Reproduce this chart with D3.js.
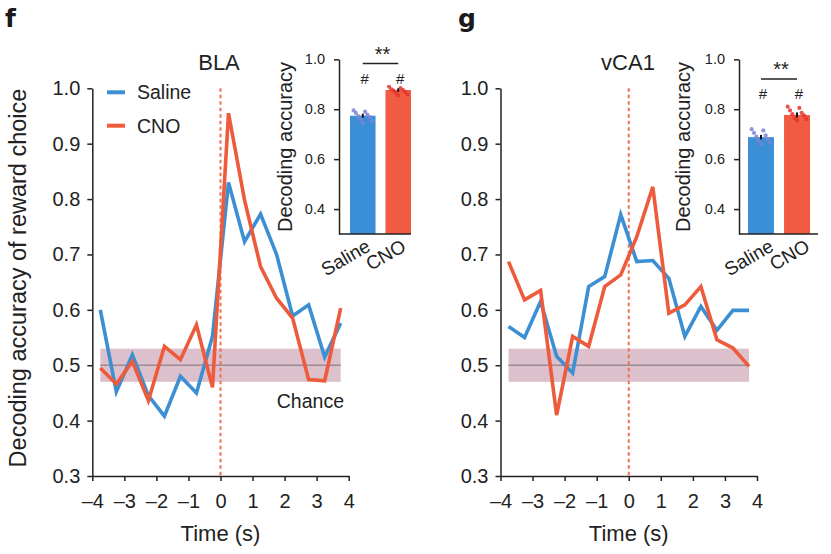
<!DOCTYPE html>
<html>
<head>
<meta charset="utf-8">
<script src="https://cdn.jsdelivr.net/npm/d3@7"></script>
<style>
  html, body { margin: 0; padding: 0; background: #fff; }
  svg { display: block; font-family: "Liberation Sans", Arial, sans-serif; }
</style>
</head>
<body>
<svg id="chart" width="831" height="554"></svg>
<script>
// ---------------- DATA ----------------
const times = [-3.75, -3.25, -2.75, -2.25, -1.75, -1.25, -0.75, -0.25, 0.25, 0.75, 1.25, 1.75, 2.25, 2.75, 3.25, 3.75];
const blaSaline  = [0.600, 0.452, 0.519, 0.445, 0.408, 0.480, 0.450, 0.552, 0.830, 0.723, 0.773, 0.700, 0.589, 0.609, 0.515, 0.576];
const blaCNO     = [0.495, 0.466, 0.507, 0.436, 0.534, 0.510, 0.573, 0.460, 0.955, 0.798, 0.678, 0.621, 0.585, 0.474, 0.472, 0.603];
const vca1Saline = [0.570, 0.550, 0.615, 0.516, 0.486, 0.642, 0.660, 0.772, 0.687, 0.689, 0.657, 0.552, 0.606, 0.563, 0.599, 0.599];
const vca1CNO    = [0.687, 0.618, 0.635, 0.410, 0.552, 0.534, 0.642, 0.663, 0.732, 0.822, 0.594, 0.609, 0.642, 0.546, 0.531, 0.498];
const chanceMean = 0.5, chanceLow = 0.47, chanceHigh = 0.53;
const mainYTicks = [0.3, 0.4, 0.5, 0.6, 0.7, 0.8, 0.9, 1.0];
const mainXTicks = [-4, -3, -2, -1, 0, 1, 2, 3, 4];
const seriesNames = ["Saline", "CNO"];

const insetGroups = ["Saline", "CNO"];
const insetYTicks = [0.4, 0.6, 0.8, 1.0];
const blaBar  = [0.774, 0.877];
const blaSem  = [0.008, 0.007];
const blaDotsSaline  = [0.795, 0.790, 0.785, 0.778, 0.772, 0.768, 0.760, 0.752, 0.745];
const blaDotsCNO     = [0.890, 0.885, 0.880, 0.878, 0.875, 0.870, 0.865, 0.860, 0.855];
const vca1Bar = [0.688, 0.777];
const vca1Sem = [0.009, 0.010];
const vca1DotsSaline = [0.720, 0.715, 0.705, 0.695, 0.690, 0.680, 0.675, 0.665, 0.660];
const vca1DotsCNO    = [0.810, 0.805, 0.795, 0.785, 0.780, 0.775, 0.765, 0.760, 0.755];

// ---------------- STYLE ----------------
const BLUE = "#3c8fd2", RED = "#ee5a3c";
const BAR_BLUE = "#3a8fd6", BAR_RED = "#f05b42";
const DOT_BLUE = "#7b86d6", DOT_RED = "#e4352b";
const AX = "#222";

const svg = d3.select("#chart");

function styleAxis(g, fs) {
  g.selectAll(".domain").attr("stroke", AX).attr("stroke-width", 1.5);
  g.selectAll(".tick line").attr("stroke", AX).attr("stroke-width", 1.5);
  g.selectAll(".tick text").attr("fill", "#222").style("font-size", fs + "px")
    .style("font-family", '"Liberation Sans", Arial, sans-serif');
}

function mainPanel(opt) {
  const x = d3.scaleLinear().domain([-4, 4]).range([opt.x0, opt.x1]);
  const y = d3.scaleLinear().domain([0.3, 1.0]).range([476, 88.3]);
  const g = svg.append("g");

  // chance band
  g.append("rect")
    .attr("x", x(times[0])).attr("width", x(times[times.length - 1]) - x(times[0]))
    .attr("y", y(chanceHigh)).attr("height", y(chanceLow) - y(chanceHigh))
    .attr("fill", "#dcc1cd");
  g.append("line")
    .attr("x1", x(times[0])).attr("x2", x(times[times.length - 1]))
    .attr("y1", y(chanceMean)).attr("y2", y(chanceMean))
    .attr("stroke", "#9c8a92").attr("stroke-width", 1.5);

  // zero line
  g.append("line")
    .attr("x1", x(0)).attr("x2", x(0)).attr("y1", y(1.0)).attr("y2", y(0.3))
    .attr("stroke", "#f07052").attr("stroke-width", 2).attr("stroke-dasharray", "3.5,3");

  const line = d3.line().x((d, i) => x(times[i])).y(d => y(d));
  g.append("path").datum(opt.saline).attr("d", line)
    .attr("fill", "none").attr("stroke", BLUE).attr("stroke-width", 3.6).attr("stroke-linejoin", "miter");
  g.append("path").datum(opt.cno).attr("d", line)
    .attr("fill", "none").attr("stroke", RED).attr("stroke-width", 3.6).attr("stroke-linejoin", "miter");

  // axes
  const ya = g.append("g").attr("transform", `translate(${opt.x0},0)`)
    .call(d3.axisLeft(y).tickValues(mainYTicks).tickFormat(d3.format(".1f")).tickSize(5).tickSizeOuter(0).tickPadding(7));
  styleAxis(ya, 20);
  const xa = g.append("g").attr("transform", `translate(0,476)`)
    .call(d3.axisBottom(x).tickValues(mainXTicks).tickFormat(d => d < 0 ? "\u2013" + Math.abs(d) : d).tickSize(5).tickSizeOuter(0).tickPadding(13));
  styleAxis(xa, 20);

  g.append("text").attr("x", (opt.x0 + opt.x1) / 2).attr("y", 541)
    .attr("text-anchor", "middle").style("font-size", "22px").attr("fill", "#222").text("Time (s)");
  g.append("text").attr("x", opt.titleX).attr("y", 70)
    .attr("text-anchor", "middle").style("font-size", "22px").attr("fill", "#222").text(opt.title);
  return { x, y, g };
}

function inset(opt) {
  const y = d3.scaleLinear().domain([0.3, 1.0]).range([234, 59.3]);
  const x = d3.scaleBand().domain(insetGroups).range([opt.bx0, opt.bx1]).paddingInner(0.28);
  const g = svg.append("g");
  const fills = [BAR_BLUE, BAR_RED];
  const dotFills = [DOT_BLUE, DOT_RED];

  g.selectAll("rect.bar").data(opt.bars).join("rect")
    .attr("x", (d, i) => x(insetGroups[i])).attr("width", x.bandwidth())
    .attr("y", d => y(d)).attr("height", d => y(0.3) - y(d))
    .attr("fill", (d, i) => fills[i]);

  [opt.dotsSaline, opt.dotsCNO].forEach((dots, gi) => {
    const cx = x(insetGroups[gi]) + x.bandwidth() / 2;
    g.selectAll(null).data(dots).join("circle")
      .attr("cx", (d, i) => cx + ((i * 5) % 9 - 4) * x.bandwidth() * 0.09)
      .attr("cy", d => y(d)).attr("r", 2.1)
      .attr("fill", dotFills[gi]).attr("opacity", 0.85);
  });

  // error bars
  g.selectAll("line.err").data(opt.bars).join("line")
    .attr("x1", (d, i) => x(insetGroups[i]) + x.bandwidth() / 2)
    .attr("x2", (d, i) => x(insetGroups[i]) + x.bandwidth() / 2)
    .attr("y1", (d, i) => y(d + opt.sem[i])).attr("y2", (d, i) => y(d - opt.sem[i]))
    .attr("stroke", "#111").attr("stroke-width", 2);

  const ya = g.append("g").attr("transform", `translate(${opt.ax0},0)`)
    .call(d3.axisLeft(y).tickValues(insetYTicks).tickFormat(d3.format(".1f")).tickSize(5).tickSizeOuter(0).tickPadding(9));
  styleAxis(ya, 14.5);
  g.append("line").attr("x1", opt.ax0).attr("x2", opt.ax1).attr("y1", y(0.3)).attr("y2", y(0.3))
    .attr("stroke", AX).attr("stroke-width", 1.5);

  // x labels
  insetGroups.forEach((name, i) => {
    const cx = x(name) + x.bandwidth() / 2;
    g.append("text").attr("transform", `translate(${cx + opt.labOff},${250}) rotate(-30)`)
      .attr("text-anchor", "end").style("font-size", "19px").attr("fill", "#222").text(name);
  });

  g.append("text").attr("transform", `translate(${opt.ylabX},147) rotate(-90)`)
    .attr("text-anchor", "middle").style("font-size", "20px").attr("fill", "#222").text("Decoding accuracy");

  // significance
  const c0 = x(insetGroups[0]) + x.bandwidth() / 2, c1 = x(insetGroups[1]) + x.bandwidth() / 2;
  g.append("line").attr("x1", c0).attr("x2", c1).attr("y1", opt.sigY).attr("y2", opt.sigY)
    .attr("stroke", "#222").attr("stroke-width", 1.6);
  g.append("text").attr("x", (c0 + c1) / 2 + 2).attr("y", opt.sigY - 3)
    .attr("text-anchor", "middle").style("font-size", "20px").attr("fill", "#222").text("**");
  [c0, c1].forEach(c => {
    g.append("text").attr("x", c + 2).attr("y", opt.sigY + 20)
      .attr("text-anchor", "middle").style("font-size", "15px").attr("fill", "#222").text("#");
  });
}

// ---------------- PANELS ----------------
mainPanel({ x0: 92.3, x1: 348.7, saline: blaSaline, cno: blaCNO, title: "BLA", titleX: 219 });
mainPanel({ x0: 500.5, x1: 757, saline: vca1Saline, cno: vca1CNO, title: "vCA1", titleX: 628 });

inset({ ax0: 339, ax1: 411, bx0: 350, bx1: 411, bars: blaBar, sem: blaSem,
        dotsSaline: blaDotsSaline, dotsCNO: blaDotsCNO, labOff: 9, ylabX: 292, sigY: 63.5 });
inset({ ax0: 739, ax1: 818, bx0: 748, bx1: 810, bars: vca1Bar, sem: vca1Sem,
        dotsSaline: vca1DotsSaline, dotsCNO: vca1DotsCNO, labOff: 14, ylabX: 690, sigY: 79 });

// main y label
svg.append("text").attr("transform", "translate(26,278) rotate(-90)")
  .attr("text-anchor", "middle").style("font-size", "23.5px").attr("fill", "#222")
  .text("Decoding accuracy of reward choice");

// legend
const legendColors = [BLUE, RED];
seriesNames.forEach((name, i) => {
  const ly = 92.3 + i * 33.4;
  svg.append("line").attr("x1", 107).attr("x2", 125).attr("y1", ly).attr("y2", ly)
    .attr("stroke", legendColors[i]).attr("stroke-width", 4);
  svg.append("text").attr("x", 137).attr("y", ly + 7).style("font-size", "19.5px").attr("fill", "#222").text(name);
});

// chance label
svg.append("text").attr("x", 344).attr("y", 408).attr("text-anchor", "end")
  .style("font-size", "19.5px").attr("fill", "#222").text("Chance");

// panel letters
svg.append("text").attr("x", 5).attr("y", 27).style("font-size", "25px").style("font-weight", "bold")
  .style("font-family", '"DejaVu Sans", sans-serif').attr("fill", "#1a1a1a").text("f");
svg.append("text").attr("x", 458).attr("y", 27).style("font-size", "25px").style("font-weight", "bold")
  .style("font-family", '"DejaVu Sans", sans-serif').attr("fill", "#1a1a1a").text("g");
</script>
</body>
</html>
